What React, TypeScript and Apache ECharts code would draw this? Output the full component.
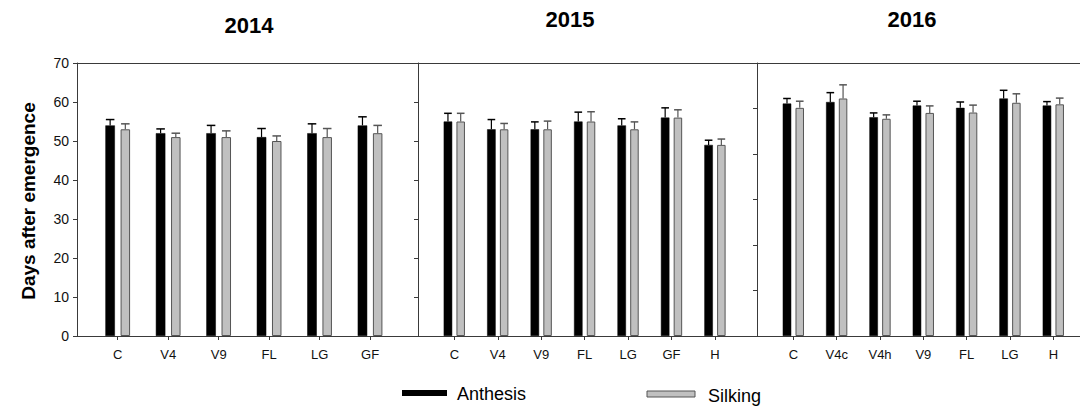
import { useEffect, useRef } from "react";
import * as echarts from "echarts";

// ---- data ----
const years = ["2014", "2015", "2016"];

const cats2014 = ["C", "V4", "V9", "FL", "LG", "GF"];
const anth2014 = [54, 52, 52, 51, 52, 54];
const anthErr2014 = [1.5, 1.1, 2.0, 2.2, 2.4, 2.2];
const silk2014 = [53, 51, 51, 50, 51, 52];
const silkErr2014 = [1.4, 1.0, 1.6, 1.3, 2.2, 2.0];

const cats2015 = ["C", "V4", "V9", "FL", "LG", "GF", "H"];
const anth2015 = [55, 53, 53, 55, 54, 56, 49];
const anthErr2015 = [2.1, 2.5, 1.9, 2.4, 1.7, 2.5, 1.2];
const silk2015 = [55, 53, 53, 55, 53, 56, 49];
const silkErr2015 = [2.1, 1.5, 2.1, 2.5, 1.9, 2.0, 1.5];

const cats2016 = ["C", "V4c", "V4h", "V9", "FL", "LG", "H"];
const anth2016 = [59.6, 60.0, 56.1, 59.1, 58.5, 60.9, 59.1];
const anthErr2016 = [1.3, 2.4, 1.1, 1.1, 1.5, 2.1, 1.0];
const silk2016 = [58.5, 60.9, 55.7, 57.2, 57.3, 59.8, 59.4];
const silkErr2016 = [1.7, 3.5, 1.0, 1.8, 1.9, 2.3, 1.6];

const yMin = 0;
const yMax = 70;
const yStep = 10;
const seriesNames = ["Anthesis", "Silking"];
const yAxisTitle = "Days after emergence";

const FONT = "'Liberation Sans', Arial, sans-serif";
const AXIS_COLOR = "#3a3a3a";
const SILK_FILL = "#c0c0c0";
const SILK_EDGE = "#555555";

export default function App() {
  const ref = useRef<HTMLDivElement>(null);

  useEffect(() => {
    if (!ref.current) return;
    const chart = echarts.init(ref.current, undefined, { renderer: "svg" });

    const panels = [
      { cats: cats2014, a: anth2014, ae: anthErr2014, s: silk2014, se: silkErr2014 },
      { cats: cats2015, a: anth2015, ae: anthErr2015, s: silk2015, se: silkErr2015 },
      { cats: cats2016, a: anth2016, ae: anthErr2016, s: silk2016, se: silkErr2016 },
    ];
    // layout
    const top = 63;
    const height = 273;
    const frames = [
      { left: 77, width: 340 },
      { left: 418, width: 339 },
      { left: 757, width: 323 },
    ];
    const dataGrids = [
      { left: 92.5, width: 302.8, bw: 9.5, gap: "60%" },
      { left: 432.6, width: 304.1, bw: 8.5, gap: "50%" },
      { left: 771.7, width: 303.3, bw: 8.5, gap: "50%" },
    ];
    const frameYMax = [yMax, yMax, 60];

    const grid: any[] = [];
    frames.forEach((f) => grid.push({ left: f.left, width: f.width, top, height }));
    dataGrids.forEach((d) => grid.push({ left: d.left, width: d.width, top, height }));

    const xAxis: any[] = [];
    const yAxis: any[] = [];
    // frame axes
    frames.forEach((_, i) => {
      const base = {
        type: "value",
        gridIndex: i,
        min: 0,
        max: 1,
        axisLine: { show: true, lineStyle: { color: AXIS_COLOR, width: 1 } },
        axisTick: { show: false },
        axisLabel: { show: false },
        splitLine: { show: false },
      };
      xAxis.push({ ...base, position: "bottom" });
      xAxis.push({ ...base, position: "top" });
      yAxis.push({
        type: "value",
        gridIndex: i,
        min: yMin,
        max: frameYMax[i],
        interval: yStep,
        axisLine: { show: true, lineStyle: { color: AXIS_COLOR, width: 1 } },
        axisTick: { show: true, inside: false, length: 4, lineStyle: { color: AXIS_COLOR } },
        axisLabel: {
          show: i === 0,
          margin: 8,
          color: "#111",
          fontSize: 14,
          fontFamily: FONT,
        },
        splitLine: { show: false },
      });
    });
    // data axes
    panels.forEach((p, i) => {
      xAxis.push({
        type: "category",
        gridIndex: 3 + i,
        data: p.cats,
        axisLine: { show: false },
        axisTick: {
          show: true,
          alignWithLabel: true,
          length: 4,
          lineStyle: { color: AXIS_COLOR },
        },
        axisLabel: { color: "#111", fontSize: 13, fontFamily: FONT, margin: 12 },
        splitLine: { show: false },
      });
      yAxis.push({
        type: "value",
        gridIndex: 3 + i,
        min: yMin,
        max: yMax,
        show: false,
        splitLine: { show: false },
      });
    });

    const series: any[] = [];
    panels.forEach((p, i) => {
      const xi = 6 + i; // data x axis index
      const yi = 3 + i;
      const d = dataGrids[i];
      const gapPx = (parseFloat(d.gap) / 100) * d.bw;
      const off = (d.bw + gapPx) / 2;
      series.push({
        name: seriesNames[0],
        type: "bar",
        xAxisIndex: xi,
        yAxisIndex: yi,
        data: p.a,
        barWidth: d.bw,
        barGap: d.gap,
        itemStyle: { color: "#000", borderColor: "#000", borderWidth: 0.5 },
        z: 2,
      });
      series.push({
        name: seriesNames[1],
        type: "bar",
        xAxisIndex: xi,
        yAxisIndex: yi,
        data: p.s,
        barWidth: d.bw,
        barGap: d.gap,
        itemStyle: { color: SILK_FILL, borderColor: SILK_EDGE, borderWidth: 1 },
        z: 2,
      });
      const mkErr = (vals: number[], errs: number[], offset: number, color: string, name: string) => ({
        name,
        type: "custom",
        xAxisIndex: xi,
        yAxisIndex: yi,
        z: 3,
        data: vals.map((v, k) => [k, v, errs[k]]),
        encode: { x: 0, y: 1 },
        renderItem: (_params: any, api: any) => {
          const idx = api.value(0);
          const v = api.value(1);
          const e = api.value(2);
          const b = api.coord([idx, v]);
          const t = api.coord([idx, v + e]);
          const x = b[0] + offset;
          const cap = d.bw * 0.9;
          return {
            type: "group",
            children: [
              {
                type: "line",
                shape: { x1: x, y1: b[1], x2: x, y2: t[1] },
                style: { stroke: color, lineWidth: 1.2 },
              },
              {
                type: "line",
                shape: { x1: x - cap / 2, y1: t[1], x2: x + cap / 2, y2: t[1] },
                style: { stroke: color, lineWidth: 1.5 },
              },
            ],
          };
        },
      });
      series.push(mkErr(p.a, p.ae, -off, "#000", seriesNames[0]));
      series.push(mkErr(p.s, p.se, off, SILK_EDGE, seriesNames[1]));
    });

    const titlePos = [
      { x: 249, y: 25 },
      { x: 570, y: 19 },
      { x: 912, y: 19 },
    ];

    const graphic: any[] = [
      ...years.map((yr, i) => ({
        type: "text",
        x: titlePos[i].x,
        y: titlePos[i].y,
        style: {
          text: yr,
          fill: "#000",
          font: `bold 22px ${FONT}`,
          textAlign: "center",
          textVerticalAlign: "middle",
        },
      })),
      {
        type: "text",
        x: 28,
        y: 201,
        rotation: Math.PI / 2,
        style: {
          text: yAxisTitle,
          fill: "#000",
          font: `bold 19px ${FONT}`,
          textAlign: "center",
          textVerticalAlign: "middle",
        },
      },
      {
        type: "rect",
        shape: { x: 402, y: 390, width: 45, height: 6 },
        style: { fill: "#000" },
      },
      {
        type: "text",
        x: 457,
        y: 394,
        style: {
          text: seriesNames[0],
          fill: "#000",
          font: `18px ${FONT}`,
          textAlign: "left",
          textVerticalAlign: "middle",
        },
      },
      {
        type: "rect",
        shape: { x: 647, y: 391, width: 48, height: 6 },
        style: { fill: SILK_FILL, stroke: SILK_EDGE, lineWidth: 1 },
      },
      {
        type: "text",
        x: 708,
        y: 396,
        style: {
          text: seriesNames[1],
          fill: "#000",
          font: `18px ${FONT}`,
          textAlign: "left",
          textVerticalAlign: "middle",
        },
      },
    ];

    chart.setOption({
      animation: false,
      backgroundColor: "#fff",
      textStyle: { fontFamily: FONT },
      grid,
      xAxis,
      yAxis,
      series,
      graphic,
    });

    return () => chart.dispose();
  }, []);

  return (
    <div
      ref={ref}
      style={{ position: "fixed", left: 0, top: 0, width: 1080, height: 412 }}
    />
  );
}
